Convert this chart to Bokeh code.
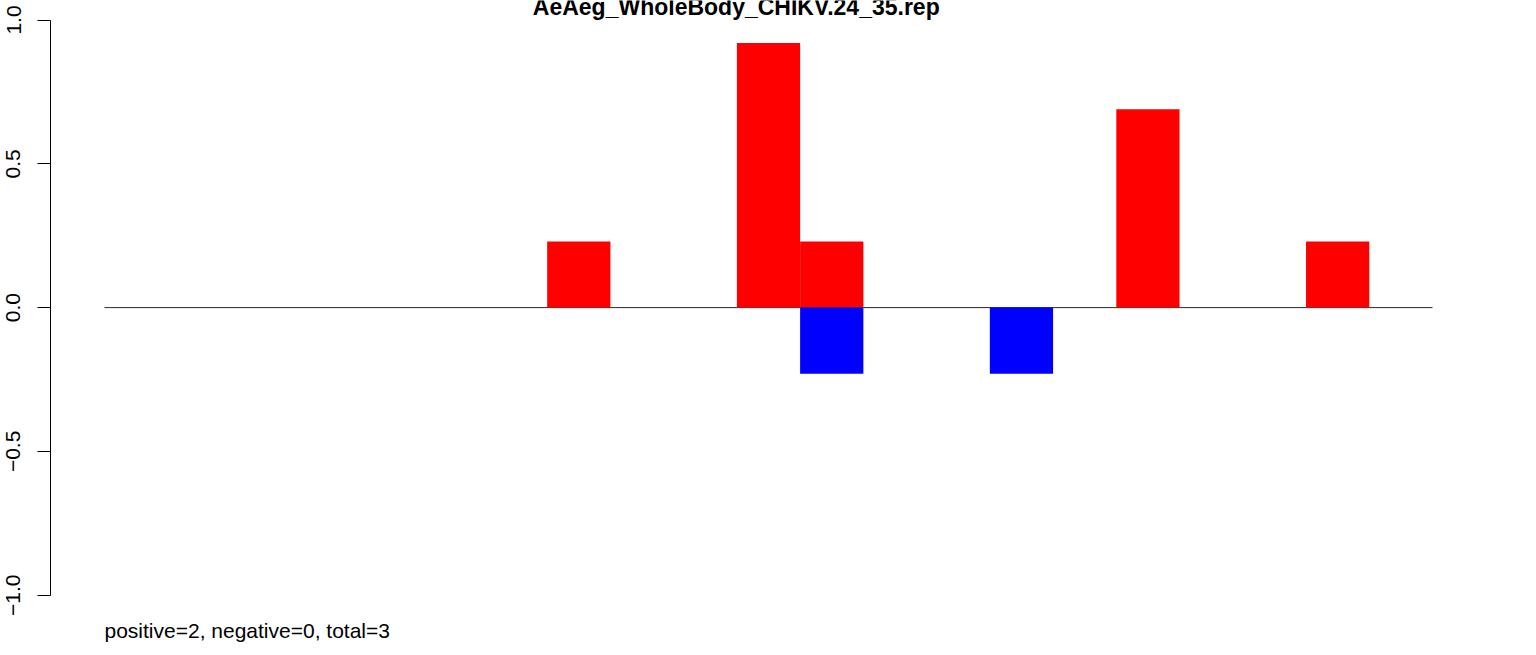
from bokeh.plotting import figure
from bokeh.models import Range1d, FixedTicker, Label
from bokeh.embed import file_html
from bokeh.resources import INLINE

# ---- data ----
title_text = "AeAeg_WholeBody_CHIKV.24_35.rep"
footer_text = "positive=2, negative=0, total=3"
n_slots = 21
slots = list(range(n_slots))
pos_values = [0, 0, 0, 0, 0, 0, 0, 0.23, 0, 0, 0.92, 0.23, 0, 0, 0, 0, 0.69, 0, 0, 0.23, 0]
neg_values = [0, 0, 0, 0, 0, 0, 0, 0, 0, 0, 0, -0.23, 0, 0, -0.23, 0, 0, 0, 0, 0, 0]
y_ticks = [-1.0, -0.5, 0.0, 0.5, 1.0]
y_tick_labels = ["\u22121.0", "\u22120.5", "0.0", "0.5", "1.0"]

FONT = "Liberation Sans"

# ---- layout ----
W, H = 1536, 655
left_border = 50
frame_w = 1450
slot_px = 1328.0 / n_slots
x0_px = 104 - left_border          # slot 0 offset inside the frame
x_start = -x0_px / slot_px
x_end = (frame_w - x0_px) / slot_px
top_px, bot_px = 19.5, 594.7        # pixel rows of y = 1 and y = -1
unit_px = (bot_px - top_px) / 2.0
y_end = 1.0 + top_px / unit_px
y_start = -1.0 - (H - bot_px) / unit_px

p = figure(width=W, height=H, output_backend="svg", toolbar_location=None,
           x_range=Range1d(x_start, x_end), y_range=Range1d(y_start, y_end),
           frame_width=frame_w, frame_height=H,
           min_border_left=left_border, min_border_top=0,
           min_border_right=W - left_border - frame_w, min_border_bottom=0,
           x_axis_location=None)
p.grid.visible = False
p.outline_line_color = None
p.background_fill_color = "white"
p.border_fill_color = "white"

yax = p.yaxis[0]
yax.bounds = (-1.0, 1.0)
yax.ticker = FixedTicker(ticks=y_ticks)
yax.major_label_overrides = {t: l for t, l in zip(y_ticks, y_tick_labels)}
yax.major_label_orientation = "vertical"
yax.major_label_text_font = FONT
yax.major_label_text_font_size = "21px"
yax.major_label_text_color = "black"
yax.major_tick_out = 13
yax.major_tick_in = 0
yax.minor_tick_out = 0
yax.minor_tick_in = 0
yax.axis_line_color = "black"
yax.major_tick_line_color = "black"
yax.major_label_standoff = 17

# zero line
p.line(x=[slots[0], slots[-1] + 1], y=[0, 0], line_color="#2a2a2a", line_width=1)

# bars
pl = [s for s, v in zip(slots, pos_values) if v != 0]
pv = [v for v in pos_values if v != 0]
p.quad(left=pl, right=[s + 1 for s in pl], bottom=[0] * len(pl), top=pv,
       fill_color="#ff0000", line_color=None)
nl = [s for s, v in zip(slots, neg_values) if v != 0]
nv = [v for v in neg_values if v != 0]
p.quad(left=nl, right=[s + 1 for s in nl], bottom=nv, top=[0] * len(nl),
       fill_color="#0000ff", line_color=None)

# title
p.add_layout(Label(x=(slots[0] + slots[-1] + 1) / 2 - 0.51, y=1.0, y_offset=13,
                   text=title_text, text_align="center", text_baseline="alphabetic",
                   text_font=FONT, text_font_style="bold", text_font_size="23px",
                   text_color="black"))
# footer
p.add_layout(Label(x=slots[0], y=-1.0, y_offset=-35, text=footer_text,
                   text_align="left", text_baseline="alphabetic",
                   text_font=FONT, text_font_size="21px", text_color="black"))

open("out.html", "w").write(file_html(p, INLINE))
